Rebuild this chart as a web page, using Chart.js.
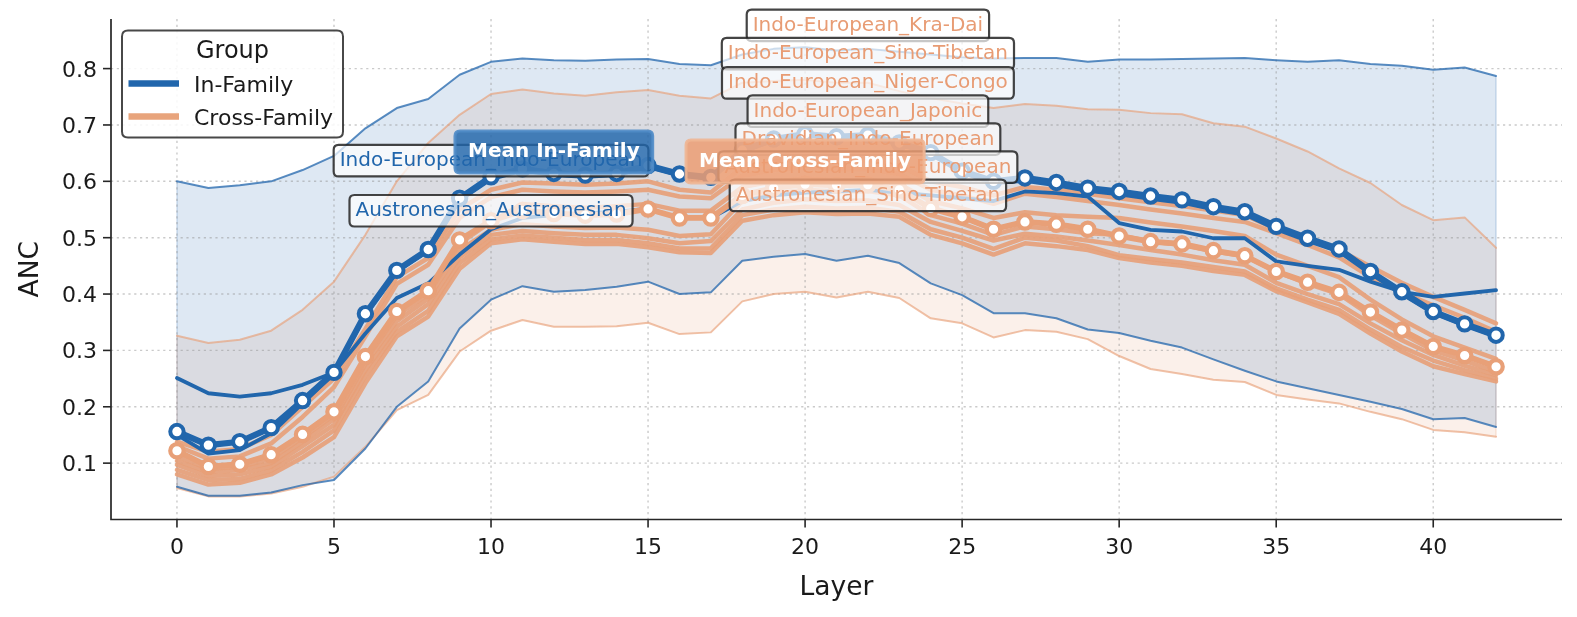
<!DOCTYPE html>
<html>
<head>
<meta charset="utf-8">
<script src="https://cdn.jsdelivr.net/npm/chart.js@4.4.1/dist/chart.umd.min.js"></script>
<style>
html,body{margin:0;padding:0;background:#fff;}
#wrap{width:1577px;height:617px;position:relative;}
</style>
</head>
<body>
<div id="wrap"><canvas id="c"></canvas></div>
<script>
// ---------------- data ----------------
const layers = [0,1,2,3,4,5,6,7,8,9,10,11,12,13,14,15,16,17,18,19,20,21,22,23,24,25,26,27,28,29,30,31,32,33,34,35,36,37,38,39,40,41,42];

const meanInFamily = [0.156,0.132,0.138,0.163,0.211,0.261,0.365,0.442,0.479,0.570, 0.608,0.622,0.614,0.611,0.614,0.628,0.613,0.607,0.655,0.675, 0.684,0.679,0.682,0.668,0.651,0.618,0.600,0.606,0.598,0.588, 0.582,0.574,0.567,0.555,0.546,0.520,0.499,0.480,0.440,0.404, 0.369,0.347,0.327];
const meanCrossFamily = [0.122,0.094,0.098,0.115,0.151,0.191,0.289,0.369,0.406,0.496, 0.530,0.548,0.543,0.540,0.542,0.551,0.535,0.535,0.575,0.588, 0.595,0.593,0.594,0.585,0.552,0.537,0.515,0.528,0.524,0.515, 0.503,0.493,0.489,0.477,0.468,0.440,0.421,0.403,0.368,0.336, 0.307,0.291,0.271];

const indoEuropean_IndoEuropean = [0.150,0.117,0.123,0.153,0.206,0.259,0.362,0.440,0.476,0.566, 0.604,0.619,0.611,0.608,0.611,0.625,0.610,0.604,0.652,0.672, 0.681,0.676,0.679,0.665,0.648,0.615,0.597,0.601,0.593,0.583, 0.577,0.569,0.562,0.550,0.541,0.515,0.494,0.475,0.436,0.400, 0.366,0.344,0.324];
const austronesian_Austronesian = [0.251,0.224,0.218,0.224,0.239,0.261,0.330,0.393,0.419,0.470, 0.515,0.535,0.540,0.543,0.546,0.551,0.535,0.535,0.565,0.575, 0.580,0.582,0.585,0.580,0.575,0.570,0.565,0.582,0.579,0.573, 0.526,0.514,0.511,0.499,0.499,0.458,0.450,0.443,0.422,0.404, 0.395,0.401,0.407];

const indoEuropean_KraDai = [0.138,0.120,0.125,0.150,0.200,0.250,0.338,0.430,0.464,0.550, 0.585,0.598,0.596,0.594,0.596,0.600,0.585,0.580,0.625,0.635, 0.640,0.638,0.638,0.628,0.600,0.590,0.575,0.590,0.585,0.578, 0.570,0.563,0.556,0.548,0.540,0.515,0.497,0.478,0.449,0.420, 0.395,0.372,0.348];
const indoEuropean_SinoTibetan = [0.130,0.108,0.112,0.135,0.182,0.235,0.325,0.418,0.452,0.535, 0.572,0.585,0.582,0.580,0.582,0.585,0.573,0.570,0.610,0.620, 0.625,0.622,0.622,0.613,0.585,0.575,0.560,0.578,0.572,0.565, 0.558,0.550,0.543,0.535,0.528,0.508,0.487,0.465,0.430,0.403, 0.380,0.358,0.333];
const indoEuropean_NigerCongo = [0.112,0.090,0.093,0.108,0.145,0.185,0.282,0.362,0.400,0.490, 0.528,0.560,0.556,0.553,0.556,0.560,0.548,0.548,0.590,0.600, 0.605,0.602,0.603,0.595,0.565,0.552,0.535,0.545,0.540,0.537, 0.535,0.527,0.520,0.512,0.503,0.470,0.450,0.430,0.390,0.355, 0.325,0.305,0.285];
const indoEuropean_Japonic = [0.104,0.084,0.088,0.100,0.138,0.178,0.275,0.352,0.392,0.478, 0.514,0.524,0.520,0.517,0.518,0.514,0.503,0.506,0.565,0.578, 0.585,0.582,0.583,0.575,0.540,0.525,0.505,0.520,0.515,0.508, 0.505,0.493,0.487,0.476,0.467,0.440,0.418,0.400,0.362,0.330, 0.300,0.282,0.262];
const dravidian_IndoEuropean = [0.097,0.077,0.080,0.094,0.130,0.168,0.265,0.342,0.382,0.465, 0.505,0.512,0.508,0.505,0.505,0.499,0.490,0.494,0.550,0.562, 0.568,0.565,0.566,0.558,0.528,0.512,0.495,0.507,0.502,0.495, 0.487,0.478,0.470,0.460,0.452,0.420,0.400,0.382,0.348,0.318, 0.292,0.273,0.256];
const austronesian_IndoEuropean = [0.088,0.070,0.072,0.087,0.120,0.158,0.255,0.333,0.370,0.455, 0.497,0.504,0.500,0.496,0.496,0.490,0.481,0.481,0.540,0.550, 0.555,0.552,0.553,0.546,0.515,0.500,0.480,0.500,0.495,0.485, 0.469,0.462,0.456,0.448,0.440,0.410,0.390,0.372,0.337,0.306, 0.282,0.265,0.250];
const austronesian_SinoTibetan = [0.080,0.062,0.065,0.080,0.110,0.146,0.242,0.325,0.360,0.445, 0.490,0.497,0.493,0.489,0.489,0.483,0.474,0.473,0.530,0.540, 0.545,0.542,0.543,0.537,0.505,0.490,0.470,0.490,0.485,0.478, 0.464,0.456,0.450,0.441,0.434,0.405,0.385,0.365,0.330,0.298, 0.272,0.258,0.245];

const inFamilyUpper = [0.600,0.588,0.593,0.600,0.620,0.645,0.694,0.730,0.746,0.789, 0.812,0.818,0.815,0.814,0.816,0.817,0.808,0.806,0.825,0.835, 0.838,0.832,0.835,0.830,0.825,0.820,0.818,0.819,0.819,0.812, 0.816,0.816,0.817,0.818,0.819,0.815,0.812,0.815,0.808,0.805, 0.798,0.802,0.787];
const inFamilyLower = [0.058,0.042,0.042,0.048,0.061,0.070,0.126,0.200,0.245,0.339, 0.390,0.414,0.404,0.407,0.413,0.422,0.400,0.403,0.459,0.466, 0.471,0.459,0.468,0.455,0.419,0.398,0.366,0.366,0.357,0.337, 0.331,0.317,0.305,0.284,0.264,0.245,0.233,0.221,0.209,0.196, 0.178,0.180,0.164];
const crossFamilyUpper = [0.326,0.313,0.319,0.335,0.372,0.422,0.505,0.600,0.668,0.718, 0.755,0.763,0.756,0.752,0.758,0.762,0.752,0.747,0.775,0.778, 0.780,0.775,0.775,0.760,0.748,0.738,0.730,0.737,0.734,0.728, 0.727,0.721,0.719,0.703,0.697,0.676,0.653,0.623,0.597,0.558, 0.531,0.536,0.482];
const crossFamilyLower = [0.056,0.041,0.041,0.046,0.058,0.076,0.129,0.194,0.221,0.298, 0.335,0.354,0.342,0.342,0.343,0.349,0.329,0.332,0.387,0.400, 0.404,0.394,0.404,0.393,0.357,0.348,0.323,0.336,0.333,0.320, 0.290,0.267,0.258,0.248,0.244,0.221,0.213,0.206,0.191,0.178, 0.159,0.155,0.147];

const xTickValues = [0,5,10,15,20,25,30,35,40];
const xTickLabels = ['0','5','10','15','20','25','30','35','40'];
const yTickValues = [0.1,0.2,0.3,0.4,0.5,0.6,0.7,0.8];
const yTickLabels = ['0.1','0.2','0.3','0.4','0.5','0.6','0.7','0.8'];
const groupNames = ['In-Family','Cross-Family'];
const legendTitle = 'Group';
const xTitle = 'Layer';
const yTitle = 'ANC';

const crossSeries = [
  ['Indo-European_Kra-Dai', indoEuropean_KraDai],
  ['Indo-European_Sino-Tibetan', indoEuropean_SinoTibetan],
  ['Indo-European_Niger-Congo', indoEuropean_NigerCongo],
  ['Indo-European_Japonic', indoEuropean_Japonic],
  ['Dravidian_Indo-European', dravidian_IndoEuropean],
  ['Austronesian_Indo-European', austronesian_IndoEuropean],
  ['Austronesian_Sino-Tibetan', austronesian_SinoTibetan]
];
const inSeries = [
  ['Indo-European_Indo-European', indoEuropean_IndoEuropean],
  ['Austronesian_Austronesian', austronesian_Austronesian]
];

// annotation placement (data coordinates of label centres)
const labelPlacement = [
  {text:'Indo-European_Kra-Dai', layer:22, value:0.8767, style:'cross'},
  {text:'Indo-European_Sino-Tibetan', layer:22, value:0.8264, style:'cross'},
  {text:'Indo-European_Niger-Congo', layer:22, value:0.7746, style:'cross'},
  {text:'Indo-European_Japonic', layer:22, value:0.7244, style:'cross'},
  {text:'Dravidian_Indo-European', layer:22, value:0.6749, style:'cross'},
  {text:'Austronesian_Indo-European', layer:22, value:0.6252, style:'cross'},
  {text:'Austronesian_Sino-Tibetan', layer:22, value:0.5750, style:'cross'},
  {text:'Indo-European_Indo-European', layer:10, value:0.6366, style:'inFam'},
  {text:'Austronesian_Austronesian', layer:10, value:0.5478, style:'inFam'},
  {text:'Mean Cross-Family', layer:20, value:0.6350, style:'meanCross'},
  {text:'Mean In-Family', layer:12, value:0.6522, style:'meanIn'}
];

// ---------------- styles ----------------
const FONT = '"DejaVu Sans", sans-serif';
const BLUE = '#2166ac';
const ORANGE = 'rgb(232,160,120)';
const labelStyles = {
  cross:{font:'20px '+FONT, color:'rgb(232,156,116)', fill:'rgba(255,255,255,0.7)', stroke:'rgba(35,35,35,0.85)', lw:2.2, padX:6, h:31.5, dy:5.5},
  inFam:{font:'20px '+FONT, color:BLUE, fill:'rgba(255,255,255,0.7)', stroke:'rgba(35,35,35,0.85)', lw:2.2, padX:6, h:31.5, dy:5.5},
  meanIn:{font:'bold 20px '+FONT, color:'#ffffff', fill:'rgba(33,102,172,0.82)', stroke:'rgba(80,140,200,0.9)', lw:3, padX:13, h:42, dy:5.3},
  meanCross:{font:'bold 20px '+FONT, color:'#ffffff', fill:'rgba(236,158,115,0.85)', stroke:'rgba(240,182,148,0.9)', lw:3, padX:13, h:43, dy:5}
};

const xy = arr => arr.map((v,i)=>({x:layers[i], y:v}));

const datasets = [];
datasets.push({label:'In-Family upper', data:xy(inFamilyUpper), borderColor:'rgba(33,102,172,0.75)', borderWidth:2, pointRadius:0, fill:1, backgroundColor:'rgba(33,102,172,0.15)', order:30});
datasets.push({label:'In-Family lower', data:xy(inFamilyLower), borderColor:'rgba(33,102,172,0.75)', borderWidth:2, pointRadius:0, fill:false, order:30});
datasets.push({label:'Cross-Family upper', data:xy(crossFamilyUpper), borderColor:'rgba(232,160,120,0.65)', borderWidth:2, pointRadius:0, fill:3, backgroundColor:'rgba(225,130,80,0.12)', order:31});
datasets.push({label:'Cross-Family lower', data:xy(crossFamilyLower), borderColor:'rgba(232,160,120,0.65)', borderWidth:2, pointRadius:0, fill:false, order:31});
crossSeries.forEach(([name, arr]) => {
  datasets.push({label:name, data:xy(arr), borderColor:'rgba(232,160,120,0.9)', borderWidth:4.5, pointRadius:0, fill:false, order:10});
});
inSeries.forEach(([name, arr]) => {
  datasets.push({label:name, data:xy(arr), borderColor:BLUE, borderWidth:3.8, pointRadius:0, fill:false, order:5});
});
datasets.push({label:'Mean Cross-Family', data:xy(meanCrossFamily), borderColor:ORANGE, borderWidth:5.8, pointRadius:6.7, pointBorderWidth:4.2, pointBackgroundColor:'#ffffff', pointBorderColor:ORANGE, fill:false, order:2});
datasets.push({label:'Mean In-Family', data:xy(meanInFamily), borderColor:BLUE, borderWidth:6.2, pointRadius:6.7, pointBorderWidth:4, pointBackgroundColor:'#ffffff', pointBorderColor:BLUE, fill:false, order:1});

datasets.forEach(d => { d.tension = 0; d.borderJoinStyle = 'round'; d.borderCapStyle = 'round'; d.clip = false; });

function rr(ctx, x, y, w, h, r) {
  ctx.beginPath();
  ctx.moveTo(x+r,y); ctx.lineTo(x+w-r,y); ctx.quadraticCurveTo(x+w,y,x+w,y+r);
  ctx.lineTo(x+w,y+h-r); ctx.quadraticCurveTo(x+w,y+h,x+w-r,y+h);
  ctx.lineTo(x+r,y+h); ctx.quadraticCurveTo(x,y+h,x,y+h-r);
  ctx.lineTo(x,y+r); ctx.quadraticCurveTo(x,y,x+r,y); ctx.closePath();
}

const decoPlugin = {
  id:'deco',
  beforeDatasetsDraw(chart) {
    const {ctx, chartArea:a, scales:{x, y}} = chart;
    ctx.save();
    const edges = [[inFamilyUpper, inFamilyLower, 'rgba(33,102,172,0.2)'], [crossFamilyUpper, crossFamilyLower, 'rgba(225,130,80,0.18)']];
    edges.forEach(([u,l,c]) => {
      ctx.strokeStyle = c; ctx.lineWidth = 1.5;
      [0, layers.length-1].forEach(i => {
        const px = x.getPixelForValue(layers[i]);
        ctx.beginPath(); ctx.moveTo(px, y.getPixelForValue(u[i])); ctx.lineTo(px, y.getPixelForValue(l[i])); ctx.stroke();
      });
    });
    ctx.strokeStyle = 'rgba(150,150,150,0.5)'; ctx.lineWidth = 1.4; ctx.setLineDash([2.2,3.6]);
    xTickValues.forEach(v => { const px = x.getPixelForValue(v); ctx.beginPath(); ctx.moveTo(px, a.top); ctx.lineTo(px, a.bottom); ctx.stroke(); });
    yTickValues.forEach(v => { const py = y.getPixelForValue(v); ctx.beginPath(); ctx.moveTo(a.left, py); ctx.lineTo(a.right, py); ctx.stroke(); });
    ctx.restore();
  },
  afterDraw(chart) {
    const {ctx, chartArea:a, scales:{x, y}} = chart;
    ctx.save();
    labelPlacement.forEach(lb => {
      const st = labelStyles[lb.style];
      const cx = x.getPixelForValue(lb.layer), cy = y.getPixelForValue(lb.value);
      ctx.font = st.font;
      const w = ctx.measureText(lb.text).width + 2*st.padX;
      rr(ctx, cx - w/2, cy - st.h/2, w, st.h, 5);
      ctx.fillStyle = st.fill; ctx.fill();
      ctx.lineWidth = st.lw; ctx.strokeStyle = st.stroke; ctx.stroke();
      ctx.fillStyle = st.color; ctx.textAlign = 'center'; ctx.textBaseline = 'alphabetic';
      ctx.fillText(lb.text, cx, cy + st.dy);
    });
    ctx.strokeStyle = '#262626'; ctx.lineWidth = 1.7; ctx.setLineDash([]);
    ctx.beginPath(); ctx.moveTo(a.left, a.top); ctx.lineTo(a.left, a.bottom); ctx.lineTo(a.right, a.bottom); ctx.stroke();
    ctx.lineWidth = 1.6;
    xTickValues.forEach(v => { const px = x.getPixelForValue(v); ctx.beginPath(); ctx.moveTo(px, a.bottom); ctx.lineTo(px, a.bottom + 8); ctx.stroke(); });
    yTickValues.forEach(v => { const py = y.getPixelForValue(v); ctx.beginPath(); ctx.moveTo(a.left, py); ctx.lineTo(a.left - 8, py); ctx.stroke(); });
    ctx.fillStyle = '#1a1a1a'; ctx.font = '22px ' + FONT; ctx.textBaseline = 'alphabetic';
    ctx.textAlign = 'center';
    xTickValues.forEach((v,i) => ctx.fillText(xTickLabels[i], x.getPixelForValue(v), a.bottom + 34));
    ctx.textAlign = 'right';
    yTickValues.forEach((v,i) => ctx.fillText(yTickLabels[i], a.left - 14, y.getPixelForValue(v) + 8));
    ctx.font = '26.5px ' + FONT; ctx.textAlign = 'center';
    ctx.fillText(xTitle, (a.left + a.right)/2, a.bottom + 75.5);
    ctx.save(); ctx.translate(38, (a.top + a.bottom)/2); ctx.rotate(-Math.PI/2); ctx.fillText(yTitle, 0, 0); ctx.restore();
    rr(ctx, 122, 30.5, 221, 107, 6);
    ctx.fillStyle = 'rgba(255,255,255,0.85)'; ctx.fill();
    ctx.lineWidth = 2; ctx.strokeStyle = 'rgba(40,40,40,0.85)'; ctx.stroke();
    ctx.fillStyle = '#1a1a1a'; ctx.font = '24px ' + FONT; ctx.textAlign = 'center';
    ctx.fillText(legendTitle, 232.5, 58.3);
    const handleColors = [BLUE, 'rgb(232,164,124)'];
    const rowsY = [83.5, 116.5];
    groupNames.forEach((g,i) => {
      ctx.strokeStyle = handleColors[i]; ctx.lineWidth = 6.5; ctx.lineCap = 'butt';
      ctx.beginPath(); ctx.moveTo(128.5, rowsY[i]); ctx.lineTo(179, rowsY[i]); ctx.stroke();
      ctx.fillStyle = '#1a1a1a'; ctx.font = '22px ' + FONT; ctx.textAlign = 'left';
      ctx.fillText(g, 194, rowsY[i] + 8.2);
    });
    ctx.restore();
  }
};

new Chart(document.getElementById('c'), {
  type:'line',
  data:{datasets},
  options:{
    responsive:true, maintainAspectRatio:false, animation:false,
    layout:{padding:{left:0, right:15, top:19, bottom:0}},
    plugins:{legend:{display:false}, tooltip:{enabled:false}, filler:{drawTime:'beforeDatasetsDraw', propagate:false}},
    events:[],
    scales:{
      x:{type:'linear', min:-2.1, max:44.1, grid:{display:false, drawTicks:false}, border:{display:false}, ticks:{display:false}, afterFit(s){ s.height = 97.5; }},
      y:{type:'linear', min:0, max:0.888, grid:{display:false, drawTicks:false}, border:{display:false}, ticks:{display:false}, afterFit(s){ s.width = 111; }}
    }
  },
  plugins:[decoPlugin]
});
</script>
</body>
</html>
